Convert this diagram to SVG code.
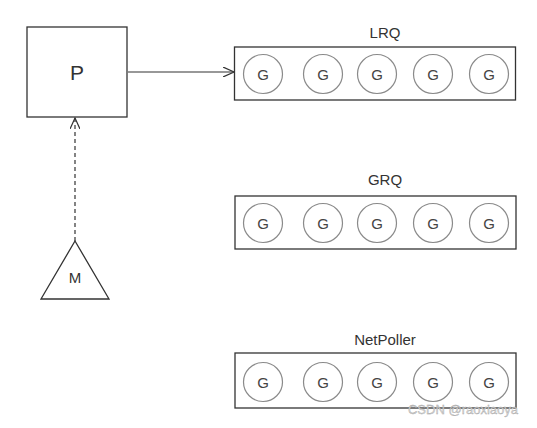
<svg xmlns="http://www.w3.org/2000/svg" width="537" height="428" viewBox="0 0 537 428">
<style>
.box{fill:#fff;stroke:#333;stroke-width:1.3}
.g{fill:#fff;stroke:#8a8a8a;stroke-width:1.2}
.t{font-family:"Liberation Sans",Arial,sans-serif;fill:#333;text-anchor:middle}
.gt{font-family:"Liberation Sans",Arial,sans-serif;fill:#444;font-size:15px;text-anchor:middle;dominant-baseline:central}
.ln{stroke:#333;stroke-width:1.2;fill:none}
</style>
<defs>
<marker id="arr" markerWidth="12" markerHeight="10" refX="11" refY="5" orient="auto" markerUnits="userSpaceOnUse">
<path d="M0,0 L11,5 L0,10" fill="none" stroke="#333" stroke-width="1.2"/>
</marker>
<g id="gcircles">
<circle class="g" cx="263" cy="0" r="19.5"/><text class="gt" x="263" y="0">G</text>
<circle class="g" cx="323" cy="0" r="19.5"/><text class="gt" x="323" y="0">G</text>
<circle class="g" cx="377" cy="0" r="19.5"/><text class="gt" x="377" y="0">G</text>
<circle class="g" cx="433" cy="0" r="19.5"/><text class="gt" x="433" y="0">G</text>
<circle class="g" cx="489" cy="0" r="19.5"/><text class="gt" x="489" y="0">G</text>
</g>
</defs>
<rect width="537" height="428" fill="#fff"/>
<g id="P">
<rect class="box" x="27" y="27" width="100" height="90"/>
<text class="t" x="77" y="80" font-size="21">P</text>
</g>
<g id="M">
<polygon class="box" points="75,241 109,299 41,299"/>
<text class="t" x="75" y="283" font-size="15">M</text>
</g>
<g id="LRQ">
<text class="t" x="385" y="38" font-size="15">LRQ</text>
<rect class="box" x="234.5" y="47" width="281" height="53"/>
<use href="#gcircles" y="74"/>
</g>
<g id="GRQ">
<text class="t" x="385" y="185" font-size="15">GRQ</text>
<rect class="box" x="235" y="196" width="281" height="53"/>
<use href="#gcircles" y="223"/>
</g>
<g id="NetPoller">
<text class="t" x="385" y="345" font-size="15">NetPoller</text>
<rect class="box" x="235" y="353" width="281" height="55"/>
<use href="#gcircles" y="382"/>
</g>
<g id="connectors">
<line class="ln" x1="128" y1="72" x2="234" y2="72" marker-end="url(#arr)"/>
<line class="ln" x1="75" y1="241" x2="75" y2="118" stroke-dasharray="4,3" marker-end="url(#arr)"/>
</g>
<text x="463" y="414" font-family="Liberation Sans,Arial,sans-serif" font-size="13" fill="#d8d8d8" stroke="#999" stroke-width="0.3" text-anchor="middle">CSDN @raoxiaoya</text>
</svg>
